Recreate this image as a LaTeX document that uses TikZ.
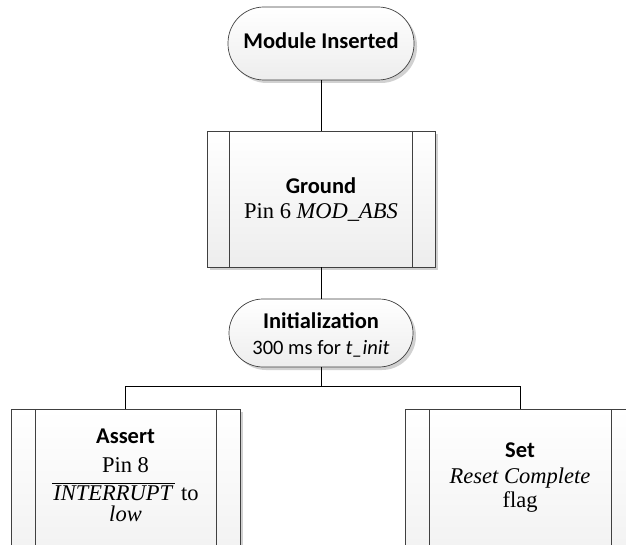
\documentclass[tikz,border=0pt]{standalone}
\usepackage{fontspec}
\setmainfont{Liberation Serif}
\newfontfamily\calfont{Carlito}
\usetikzlibrary{shadows}
% a bar drawn over a word, for active-low signal names
\newcommand\barover[1]{\vbox{\hrule height 1.6pt\kern 1pt\hbox{\kern1pt#1\kern2pt}}}
\begin{document}
\begin{tikzpicture}[x=1pt,y=-1pt,
  shape fill/.style={top color=white,bottom color=black!7},
  soft shadow/.style={drop shadow={shadow xshift=3pt,shadow yshift=-3pt,fill=black!18,opacity=1}},
  terminator/.style={draw=black!75,line width=0.7pt,rounded corners=#1,shape fill,soft shadow,inner sep=0pt},
  procbox/.style={draw=black!75,line width=0.7pt,shape fill,soft shadow,inner sep=0pt,
    path picture={
      \draw[black!75,line width=0.7pt]
        ([xshift=#1]path picture bounding box.north west) -- ([xshift=#1]path picture bounding box.south west)
        ([xshift=-#1]path picture bounding box.north east) -- ([xshift=-#1]path picture bounding box.south east);
    }},
  head/.style={anchor=base,inner sep=0pt,font=\calfont\bfseries\fontsize{22.5}{27}\selectfont},
  serifline/.style={anchor=base,inner sep=0pt,font=\fontsize{22.5}{27}\selectfont},
  calline/.style={anchor=base,inner sep=0pt,font=\calfont\fontsize{20.5}{24}\selectfont},
  link/.style={draw=black,line width=0.8pt}]
\useasboundingbox (0,0) rectangle (626,545);
\clip (0,0) rectangle (626,545);

% start terminator
\node[terminator=36pt,minimum width=186pt,minimum height=73pt] (start) at (321,43.5) {};
\node[head] (startTxt) at (321,49) {Module Inserted};

% grounding step
\node[procbox=22.5pt,minimum width=228pt,minimum height=136pt] (ground) at (321,199) {};
\node[head] (groundHd) at (321,194) {Ground};
\node[serifline] (groundTx) at (321,219) {Pin 6 \textit{MOD\_ABS}};

% initialization terminator
\node[terminator=34pt,minimum width=184pt,minimum height=68pt] (init) at (321,333) {};
\node[head] (initHd) at (321,328) {Initialization};
\node[calline] (initTx) at (321,354) {300 ms for \textit{t\_init}};

% two parallel steps, running past the lower edge
\node[procbox=24pt,minimum width=229pt,minimum height=200pt,anchor=north] (assert) at (125.5,409) {};
\node[head] (assertHd) at (125.5,443) {Assert};
\node[serifline] (assertL1) at (125.5,472) {Pin 8};
\node[serifline] (assertL2) at (125.5,500) {\barover{\textit{INTERRUPT}} to};
\node[serifline] (assertL3) at (125.5,521) {\textit{low}};

\node[procbox=24pt,minimum width=230pt,minimum height=200pt,anchor=north] (set) at (520,409) {};
\node[head] (setHd) at (520,457) {Set};
\node[serifline] (setL1) at (520,483) {\textit{Reset Complete}};
\node[serifline] (setL2) at (520,507) {flag};

% connectors
\draw[link] (start.south) -- (ground.north);
\draw[link] (ground.south) -- (init.north);
\coordinate (split) at (321,386);
\draw[link] (init.south) -- (split) -| (assert.north);
\draw[link] (split) -| (set.north);
\end{tikzpicture}
\end{document}
